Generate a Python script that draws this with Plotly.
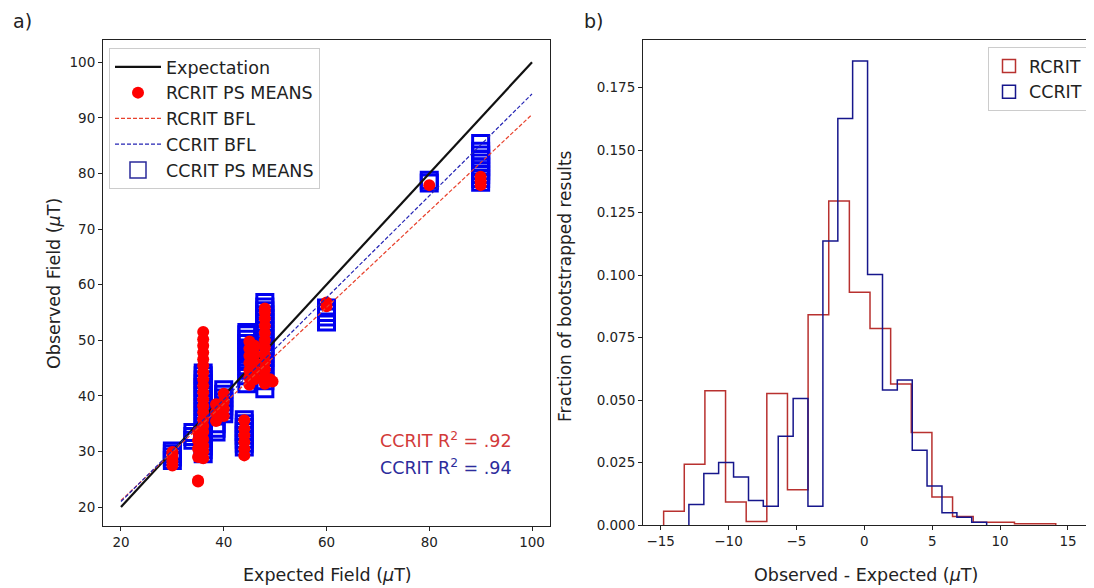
import plotly.graph_objects as go

# ---------------- Panel a) data ----------------
rcrit_x = [30, 30, 30, 30, 30,
           35, 35,
           35, 35, 35, 35,
           36, 36, 36, 36, 36, 36, 36, 36, 36, 36, 36, 36, 36, 36, 36, 36, 36, 36, 36, 36,
           38.5, 38.5, 38.5,
           40, 40, 40, 40,
           44, 44, 44, 44, 44, 44,
           45, 45, 45, 45, 45, 45, 45,
           46, 46, 46, 46, 46,
           48, 48, 48, 48, 48, 48, 48, 48, 48, 48, 48, 48,
           49.5, 49,
           60, 60,
           80,
           90, 90, 90]
rcrit_y = [27.5, 28.2, 28.9, 29.5, 29.9,
           24.6, 24.8,
           29.0, 30.5, 32.0, 33.5,
           28.8, 30.0, 31.0, 32.2, 33.5, 34.6, 35.8, 37.0, 38.2, 39.4, 40.6, 41.8, 43.0, 44.2, 45.4, 46.6, 47.8, 49.0, 50.2, 51.5,
           35.5, 37.0, 38.5,
           36.4, 37.7, 39.0, 40.4,
           29.3, 30.5, 31.7, 32.9, 34.1, 35.6,
           42.0, 43.3, 44.6, 45.9, 47.2, 48.5, 49.8,
           43.0, 44.5, 46.0, 47.5, 49.0,
           42.2, 43.5, 44.8, 46.1, 47.4, 48.7, 50.0, 51.3, 52.6, 53.9, 55.0, 55.7,
           42.6, 43.0,
           56.1, 56.8,
           77.9,
           77.9, 78.6, 79.4]

ccrit_x = [30, 30, 30, 30,
           34, 34, 34,
           36, 36, 36, 36, 36, 36, 36, 36, 36, 36, 36, 36, 36, 36, 36, 36, 36, 36, 36, 36, 36, 36,
           38.5, 38.5, 38.5,
           40, 40, 40, 40, 40, 40, 40,
           44, 44, 44, 44, 44, 44, 44, 44,
           44.5, 44.5, 44.5, 44.5, 44.5, 44.5, 44.5, 44.5, 44.5, 44.5, 44.5, 44.5,
           48, 48, 48, 48, 48, 48, 48, 48, 48, 48, 48, 48, 48, 48, 48, 48, 48, 48, 48, 48, 48,
           60, 60, 60, 60,
           80, 80,
           90, 90, 90, 90, 90, 90, 90, 90, 90, 90]
ccrit_y = [28.4, 29.0, 29.6, 30.1,
           32.0, 32.7, 33.4,
           29.6, 30.3, 31.0, 31.7, 32.4, 33.1, 33.8, 34.5, 35.2, 35.9, 36.6, 37.3, 38.0, 38.7, 39.4, 40.1,
           40.8, 41.5, 42.2, 42.9, 43.6, 44.1,
           33.5, 34.2, 35.0,
           36.8, 37.5, 38.2, 38.9, 39.6, 40.3, 41.1,
           30.8, 31.5, 32.2, 32.9, 33.6, 34.3, 35.0, 35.7,
           42.2, 43.6, 44.6, 45.4, 46.2, 47.0, 47.8, 48.6, 49.4, 50.2, 51.0, 51.4,
           41.3, 42.7, 44.1, 44.8, 45.5, 46.2, 46.9, 47.6, 48.3, 49.0, 49.7, 50.4, 51.1, 51.8, 52.5,
           53.2, 53.9, 54.6, 55.3, 56.0, 56.8,
           53.3, 54.2, 55.0, 55.8,
           78.3, 78.8,
           78.4, 79.1, 79.8, 80.5, 81.2, 81.9, 82.6, 83.3, 84.0, 85.4]

expect_x = [20, 100]
expect_y = [20, 100]
bfl_x = [20, 100]
rcrit_bfl_y = [21.2, 90.6]
ccrit_bfl_y = [21.0, 94.3]

r2_labels = ["CCRIT R<sup>2</sup> = .92", "CCRIT R<sup>2</sup> = .94"]
r2_pos_y = [32.0, 27.2]

# ---------------- Panel b) data ----------------
rcrit_edges = [-14.78, -13.26, -11.74, -10.22, -8.70, -7.18, -5.66, -4.14, -2.62, -1.10,
               0.42, 1.94, 3.46, 4.98, 6.50, 8.02, 9.54, 11.06, 12.58, 14.10]
rcrit_frac = [0.0055, 0.0243, 0.0537, 0.0092, 0.0014, 0.0526, 0.0141, 0.0841, 0.1296, 0.0931,
              0.0786, 0.0564, 0.0370, 0.0112, 0.0034, 0.0011, 0.0011, 0.0005, 0.0005]

ccrit_edges = [-12.92, -11.82, -10.73, -9.63, -8.53, -7.44, -6.34, -5.24, -4.15, -3.05, -1.95,
               -0.86, 0.24, 1.34, 2.43, 3.53, 4.62, 5.72, 6.82, 7.91, 9.01]
ccrit_frac = [0.0082, 0.0206, 0.0250, 0.0192, 0.0098, 0.0075, 0.0355, 0.0506, 0.0075, 0.1136,
              0.1626, 0.1856, 0.1002, 0.0540, 0.0580, 0.0299, 0.0156, 0.0049, 0.0031, 0.0011]


def step_outline(edges, heights):
    xs = [edges[0]] + list(edges[:-1]) + [edges[-1]]
    ys = [0] + list(heights) + [0]
    return xs, ys


FONT = "DejaVu Sans"
TXT = "#222222"
RED_DOT = "#ff0000"
BLUE_SQ = "#0000f0"
RED_HIST = "#b8312f"
BLUE_HIST = "#16168c"

# page offset (browser body margin) and figure size
OX, OY = 8, 8
FW, FH = 1086, 580


def px(x):
    return (x - OX) / FW


def py(y):
    return 1 - (y - OY) / FH


fig = go.Figure()

fig.add_trace(go.Scatter(
    x=ccrit_x, y=ccrit_y, mode="markers", name="CCRIT PS MEANS", showlegend=False,
    marker=dict(symbol="square-open", size=16, color=BLUE_SQ, line=dict(width=3, color=BLUE_SQ)),
    xaxis="x", yaxis="y"))
fig.add_trace(go.Scatter(
    x=expect_x, y=expect_y, mode="lines", name="Expectation",
    line=dict(color="#111111", width=2.2),
    xaxis="x", yaxis="y", legend="legend", legendrank=1))
fig.add_trace(go.Scatter(
    x=rcrit_x, y=rcrit_y, mode="markers", name="RCRIT PS MEANS",
    marker=dict(symbol="circle", size=12, color=RED_DOT),
    xaxis="x", yaxis="y", legend="legend", legendrank=2))
fig.add_trace(go.Scatter(
    x=bfl_x, y=rcrit_bfl_y, mode="lines", name="RCRIT BFL",
    line=dict(color="#e8412c", width=1.2, dash="4px,2px"),
    xaxis="x", yaxis="y", legend="legend", legendrank=3))
fig.add_trace(go.Scatter(
    x=bfl_x, y=ccrit_bfl_y, mode="lines", name="CCRIT BFL",
    line=dict(color="#2424b4", width=1.2, dash="4px,2px"),
    xaxis="x", yaxis="y", legend="legend", legendrank=4))
# legend entry for the CCRIT squares (thin outline as in the key)
fig.add_trace(go.Scatter(
    x=[None], y=[None], mode="markers", name="CCRIT PS MEANS",
    marker=dict(symbol="square-open", size=16, color="#2a2a9a", line=dict(width=1.5)),
    xaxis="x", yaxis="y", legend="legend", legendrank=5))

rx, ry = step_outline(rcrit_edges, rcrit_frac)
cx, cy = step_outline(ccrit_edges, ccrit_frac)
fig.add_trace(go.Scatter(x=rx, y=ry, mode="lines", line=dict(color=RED_HIST, width=1.5, shape="hv"),
                         showlegend=False, xaxis="x2", yaxis="y2"))
fig.add_trace(go.Scatter(x=cx, y=cy, mode="lines", line=dict(color=BLUE_HIST, width=1.5, shape="hv"),
                         showlegend=False, xaxis="x2", yaxis="y2"))
fig.add_trace(go.Scatter(x=[None], y=[None], mode="markers", name="RCRIT",
                         marker=dict(symbol="square-open", size=13, color=RED_HIST, line=dict(width=1.5)),
                         xaxis="x2", yaxis="y2", legend="legend2", legendrank=1))
fig.add_trace(go.Scatter(x=[None], y=[None], mode="markers", name="CCRIT",
                         marker=dict(symbol="square-open", size=13, color=BLUE_HIST, line=dict(width=1.5)),
                         xaxis="x2", yaxis="y2", legend="legend2", legendrank=2))

axis_common = dict(showline=True, mirror=True, linecolor=TXT, linewidth=1,
                   ticks="outside", ticklen=4, tickcolor=TXT, showgrid=False, zeroline=False,
                   tickfont=dict(family=FONT, size=13.5, color=TXT), automargin=False)

LEG_FONT = dict(family=FONT, size=17.5, color=TXT)
LBL = 17.5

fig.update_layout(
    width=FW, height=FH, margin=dict(l=0, r=0, t=0, b=0),
    paper_bgcolor="white", plot_bgcolor="white",
    font=dict(family=FONT, size=14, color=TXT),
    xaxis=dict(domain=[px(103), px(550)], range=[16.5, 103.5], tickvals=[20, 40, 60, 80, 100],
               anchor="y", **axis_common),
    yaxis=dict(domain=[py(526), py(40)], range=[16.6, 104.0],
               tickvals=[20, 30, 40, 50, 60, 70, 80, 90, 100], anchor="x", **axis_common),
    xaxis2=dict(domain=[px(643), px(1092)], range=[-16.3, 16.77], tickvals=[-15, -10, -5, 0, 5, 10, 15],
                anchor="y2", **axis_common),
    yaxis2=dict(domain=[py(525), py(40)], range=[0, 0.194],
                tickvals=[0, 0.025, 0.05, 0.075, 0.1, 0.125, 0.15, 0.175], tickformat=".3f",
                anchor="x2", **axis_common),
    legend=dict(x=px(109), y=py(48), xanchor="left", yanchor="top",
                bgcolor="rgba(255,255,255,0.85)", bordercolor="#cccccc", borderwidth=1,
                font=LEG_FONT, tracegroupgap=0, itemwidth=46),
    legend2=dict(x=px(1088), y=py(47), xanchor="right", yanchor="top",
                 bgcolor="rgba(255,255,255,0.85)", bordercolor="#cccccc", borderwidth=1,
                 font=LEG_FONT, tracegroupgap=0, itemwidth=30),
    showlegend=True,
)

ann = []
ann.append(dict(text="a)", x=px(11), y=py(21), xref="paper", yref="paper", xanchor="left",
                yanchor="middle", showarrow=False, font=dict(family=FONT, size=19, color=TXT)))
ann.append(dict(text="b)", x=px(582), y=py(21), xref="paper", yref="paper", xanchor="left",
                yanchor="middle", showarrow=False, font=dict(family=FONT, size=19, color=TXT)))
ann.append(dict(text="Expected Field (<i>μ</i>T)", x=px(327), y=py(575), xref="paper", yref="paper",
                xanchor="center", yanchor="middle", showarrow=False, font=dict(family=FONT, size=LBL, color=TXT)))
ann.append(dict(text="Observed Field (<i>μ</i>T)", x=px(54), y=py(284), xref="paper", yref="paper",
                xanchor="center", yanchor="middle", showarrow=False, textangle=-90,
                font=dict(family=FONT, size=LBL, color=TXT)))
ann.append(dict(text="Observed - Expected (<i>μ</i>T)", x=px(866), y=py(575), xref="paper", yref="paper",
                xanchor="center", yanchor="middle", showarrow=False, font=dict(family=FONT, size=LBL, color=TXT)))
ann.append(dict(text="Fraction of bootstrapped results", x=px(565), y=py(286), xref="paper", yref="paper",
                xanchor="center", yanchor="middle", showarrow=False, textangle=-90,
                font=dict(family=FONT, size=17, color=TXT)))
r2_colors = ["#d23a3a", "#2c2c9c"]
for lab, yv, col in zip(r2_labels, r2_pos_y, r2_colors):
    ann.append(dict(text=lab, x=70, y=yv, xref="x", yref="y", xanchor="left", yanchor="middle",
                    showarrow=False, font=dict(family=FONT, size=17.5, color=col)))
fig.update_layout(annotations=ann)

fig.write_html("out.html")
